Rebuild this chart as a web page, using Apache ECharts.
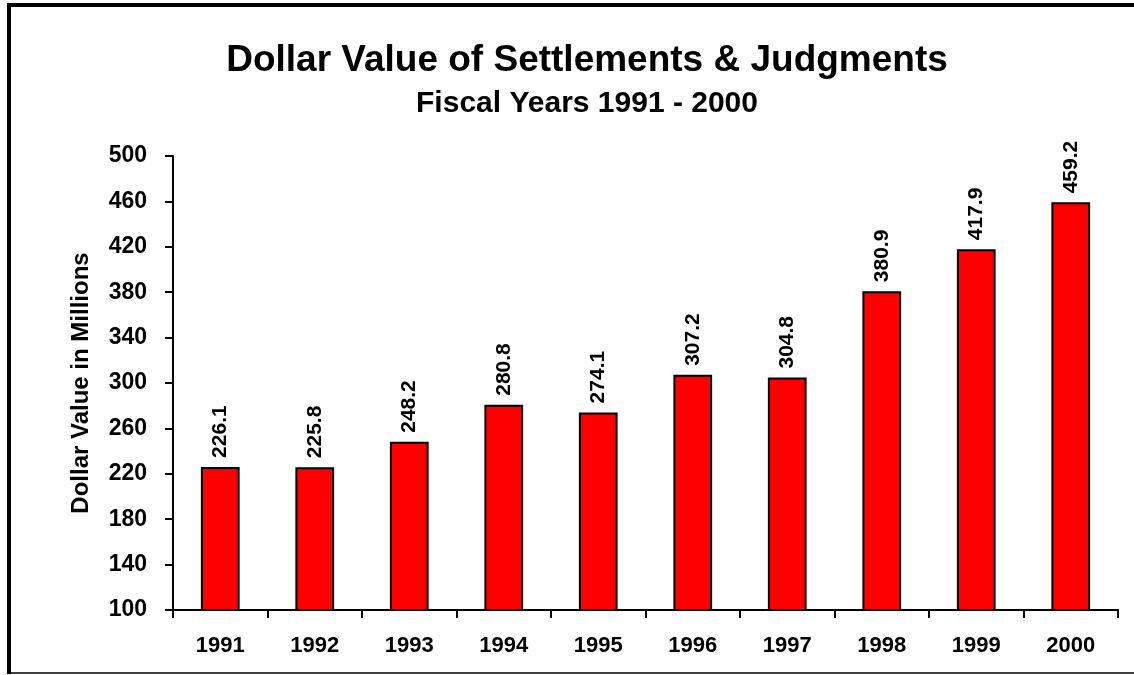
<!DOCTYPE html>
<html>
<head>
<meta charset="utf-8">
<script src="https://cdn.jsdelivr.net/npm/echarts@6/dist/echarts.min.js"></script>
<style>
  html, body { margin: 0; padding: 0; background: #fff; }
  #chart { width: 1134px; height: 675px; }
</style>
</head>
<body>
<div id="chart"></div>
<script>
// Settlements & judgments, fiscal years 1991-2000
const years = ['1991', '1992', '1993', '1994', '1995', '1996', '1997', '1998', '1999', '2000'];
const values = [226.1, 225.8, 248.2, 280.8, 274.1, 307.2, 304.8, 380.9, 417.9, 459.2];

const FONT = 'Liberation Sans, Arial, sans-serif';

const chart = echarts.init(document.getElementById('chart'));
chart.setOption({
  animation: false,
  title: [
    { text: 'Dollar Value of Settlements & Judgments', left: 582, top: 37, textAlign: 'center',
      textStyle: { fontFamily: FONT, fontSize: 37, fontWeight: 'bold', color: '#000' } },
    { text: 'Fiscal Years 1991 - 2000', left: 582, top: 84, textAlign: 'center',
      textStyle: { fontFamily: FONT, fontSize: 30, fontWeight: 'bold', color: '#000' } }
  ],
  grid: { left: 173, right: 16, top: 156, bottom: 65 },
  xAxis: {
    type: 'category',
    data: years,
    axisLine: { lineStyle: { color: '#000', width: 2 } },
    axisTick: { show: true, alignWithLabel: false, length: 8, lineStyle: { color: '#000', width: 2 } },
    axisLabel: { margin: 25, fontFamily: FONT, fontSize: 22, fontWeight: 'bold', color: '#000' }
  },
  yAxis: {
    type: 'value',
    min: 100, max: 500, interval: 40,
    name: 'Dollar Value in Millions',
    nameLocation: 'middle',
    nameGap: 80,
    nameTextStyle: { fontFamily: FONT, fontSize: 24, fontWeight: 'bold', color: '#000' },
    axisLine: { show: true, lineStyle: { color: '#000', width: 2 } },
    axisTick: { show: true, length: 8, lineStyle: { color: '#000', width: 2 } },
    splitLine: { show: false },
    axisLabel: { margin: 26, fontFamily: FONT, fontSize: 23, fontWeight: 'bold', color: '#000' }
  },
  series: [{
    type: 'bar',
    data: values,
    barWidth: '41%',
    itemStyle: { color: '#ff0000', borderColor: '#000', borderWidth: 2 },
    label: {
      show: true, position: 'top', rotate: 90, align: 'left', verticalAlign: 'middle', distance: 9,
      fontFamily: FONT, fontSize: 21, fontWeight: 'bold', color: '#000',
      formatter: p => p.value.toFixed(1)
    }
  }],
  graphic: [
    { type: 'line', shape: { x1: 7, y1: 5, x2: 1140, y2: 5 }, style: { stroke: '#000', lineWidth: 4 } },
    { type: 'line', shape: { x1: 9, y1: 3, x2: 9, y2: 674 }, style: { stroke: '#000', lineWidth: 4 } },
    { type: 'line', shape: { x1: 7, y1: 673, x2: 1140, y2: 673 }, style: { stroke: '#000', lineWidth: 1.5 } }
  ]
});
</script>
</body>
</html>
